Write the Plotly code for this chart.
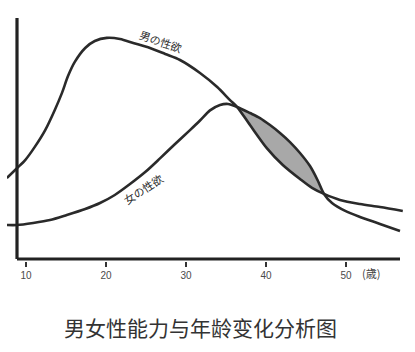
import plotly.graph_objects as go

# ---- data (age in years, relative libido level 0-100) ----
male_age = [7.6, 8.9, 9.9, 11.1, 12.4, 13.6, 14.5, 15.25, 16.1, 17.4, 18.6, 20.1, 21.75,
            23.4, 25.5, 27.4, 29.25, 31.75, 33.9, 35.5, 36.4, 38.0, 40.1, 42.1, 44.25,
            45.75, 47.25, 49.25, 51.75, 54.25, 57.1]
male_val = [33.3, 37.5, 40.8, 46.3, 53.3, 61.7, 68.8, 75.8, 81.7, 87.5, 90.4, 91.7, 91.25,
            89.6, 87.5, 85.0, 82.5, 77.1, 71.25, 65.8, 62.9, 55.4, 45.8, 38.75, 32.9,
            29.2, 26.7, 24.2, 22.5, 21.25, 19.6]

female_age = [7.6, 8.9, 10.9, 13.0, 15.1, 17.4, 19.25, 21.1, 23.0, 24.9, 26.75, 28.6, 30.5,
              31.75, 33.0, 34.25, 35.25, 36.4, 38.0, 39.25, 40.5, 41.75, 43.0, 44.25,
              45.5, 46.5, 47.25, 48.25, 49.9, 51.75, 54.25, 56.75]
female_val = [13.75, 13.75, 14.6, 15.8, 17.9, 20.4, 22.9, 26.25, 30.8, 35.8, 41.5, 47.4, 53.3,
              57.3, 61.5, 63.75, 64.2, 62.9, 60.4, 58.3, 55.4, 52.1, 48.3, 43.75,
              38.3, 32.1, 26.7, 22.9, 19.6, 17.1, 14.2, 11.25]

# ages where the two curves cross (the shaded lens lies between them)
lens_start, lens_end = 36.4, 47.25

tick_vals = [10, 20, 30, 40, 50]
tick_text = ["10", "20", "30", "40", "50"]

male_label = "男の性欲"
female_label = "女の性欲"
unit_label = "(歳)"
title_text = "男女性能力与年龄变化分析图"

# ---- figure ----
ink = "#2a2a2a"
fig = go.Figure()

m_lens = [(a, v) for a, v in zip(male_age, male_val) if lens_start <= a <= lens_end]
f_lens = [(a, v) for a, v in zip(female_age, female_val) if lens_start <= a <= lens_end]

fig.add_trace(go.Scatter(x=[p[0] for p in m_lens], y=[p[1] for p in m_lens],
                         mode="lines", line=dict(width=0, shape="spline", smoothing=0.8),
                         hoverinfo="skip", showlegend=False))
fig.add_trace(go.Scatter(x=[p[0] for p in f_lens], y=[p[1] for p in f_lens],
                         mode="lines", line=dict(width=0, shape="spline", smoothing=0.8),
                         fill="tonexty", fillcolor="#a8a8a8",
                         hoverinfo="skip", showlegend=False))

fig.add_trace(go.Scatter(x=male_age, y=male_val, mode="lines",
                         line=dict(color=ink, width=2.6, shape="spline", smoothing=0.8),
                         hoverinfo="skip", showlegend=False))
fig.add_trace(go.Scatter(x=female_age, y=female_val, mode="lines",
                         line=dict(color=ink, width=2.6, shape="spline", smoothing=0.8),
                         hoverinfo="skip", showlegend=False))

# axis lines (drawn as shapes so curves can extend past the y axis)
fig.add_shape(type="line", x0=8.875, x1=56.75, y0=-0.42, y1=-0.42,
              line=dict(color="#222", width=3.2), layer="above")
fig.add_shape(type="line", x0=8.875, x1=8.875, y0=-0.42, y1=100,
              line=dict(color="#222", width=3.2), layer="above")

fig.add_annotation(x=26.85, y=90.6, text=male_label, showarrow=False, textangle=19,
                   font=dict(size=11, color="#2e2e2e", family="Noto Sans CJK JP"))
fig.add_annotation(x=24.6, y=28.8, text=female_label, showarrow=False, textangle=-33,
                   font=dict(size=11, color="#2e2e2e", family="Noto Sans CJK JP"))
fig.add_annotation(x=53.1, xref="x", yref="paper", y=-0.046, yanchor="middle",
                   text=unit_label, showarrow=False,
                   font=dict(size=11, color="#444", family="Noto Sans CJK JP"))
fig.add_annotation(xref="paper", yref="paper", x=0.4886, y=-0.253, yanchor="middle",
                   text=title_text, showarrow=False,
                   font=dict(size=21, color="#333", family="Noto Sans CJK SC"))

fig.update_xaxes(range=[7.625, 57.125], tickvals=tick_vals, ticktext=tick_text,
                 ticks="outside", ticklen=5, tickwidth=2, tickcolor="#333",
                 showgrid=False, zeroline=False, showline=False,
                 tickfont=dict(size=10, color="#4a4a4a", family="Liberation Sans"))
fig.update_yaxes(range=[-1.25, 107.5], showticklabels=False, showgrid=False,
                 zeroline=False, showline=False, ticks="")

fig.update_layout(width=415, height=352, margin=dict(l=7, r=12, t=0, b=91),
                  paper_bgcolor="white", plot_bgcolor="white", showlegend=False)

fig.write_html("out.html")
